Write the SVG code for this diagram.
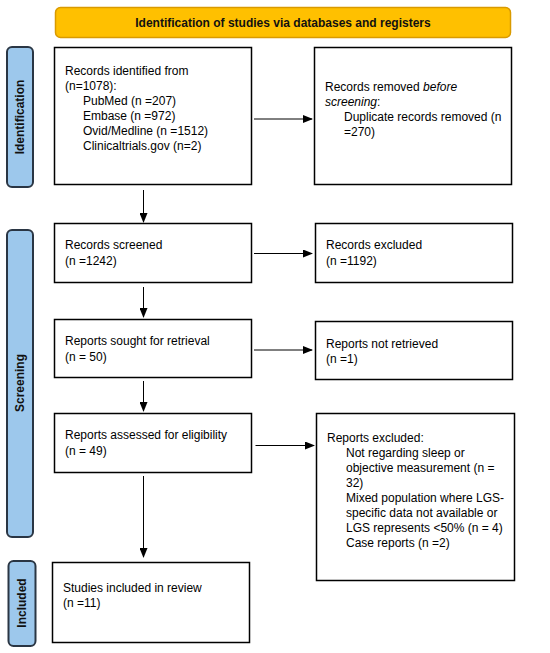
<svg xmlns="http://www.w3.org/2000/svg" width="550" height="653" viewBox="0 0 550 653">
<defs>
<marker id="ah" markerWidth="10" markerHeight="8" refX="9" refY="4" orient="auto" markerUnits="userSpaceOnUse">
<path d="M0,0 L10,4 L0,8 Z" fill="#000"/>
</marker>
<style>
.box{fill:#fff;stroke:#000;stroke-width:1.5}
.side{fill:#9DC8EC;stroke:#2A3644;stroke-width:2}
.banner{fill:#FFC000;stroke:#D99A00;stroke-width:1.5}
.t{font-family:"Liberation Sans",Arial,sans-serif;font-size:12px;fill:#000}
.b{font-family:"Liberation Sans",Arial,sans-serif;font-size:12px;font-weight:bold;fill:#111}
.c{stroke:#000;stroke-width:1;fill:none;marker-end:url(#ah)}
</style>
</defs>
<rect width="550" height="653" fill="#fff"/>
<g id="banner">
<rect class="banner" x="55.5" y="7.5" width="455" height="30" rx="5"/>
<text class="b" x="283" y="27" text-anchor="middle">Identification of studies via databases and registers</text>
</g>
<g id="side-identification">
<rect class="side" x="7" y="47" width="26" height="140" rx="5"/>
<text class="b" transform="translate(24,117) rotate(-90)" text-anchor="middle">Identification</text>
</g>
<g id="side-screening">
<rect class="side" x="7" y="230" width="26" height="307" rx="5"/>
<text class="b" transform="translate(24,383) rotate(-90)" text-anchor="middle">Screening</text>
</g>
<g id="side-included">
<rect class="side" x="8.5" y="561" width="27" height="85" rx="5"/>
<text class="b" transform="translate(26,603) rotate(-90)" text-anchor="middle">Included</text>
</g>
<g id="identified">
<rect class="box" x="54.5" y="47.5" width="197" height="137"/>
<text class="t"><tspan x="65" y="75">Records identified from</tspan><tspan x="65" y="90">(n=1078):</tspan><tspan x="83" y="105">PubMed (n =207)</tspan><tspan x="83" y="120">Embase (n =972)</tspan><tspan x="83" y="135">Ovid/Medline (n =1512)</tspan><tspan x="83" y="150">Clinicaltrials.gov (n=2)</tspan></text>
</g>
<g id="removed">
<rect class="box" x="314.5" y="47.5" width="197" height="137"/>
<text class="t"><tspan x="325" y="91">Records removed </tspan><tspan font-style="italic">before</tspan><tspan x="325" y="106" font-style="italic">screening</tspan><tspan>:</tspan><tspan x="344" y="121">Duplicate records removed (n</tspan><tspan x="344" y="136">=270)</tspan></text>
</g>
<g id="screened">
<rect class="box" x="54.5" y="223.5" width="197" height="59"/>
<text class="t"><tspan x="65" y="249">Records screened</tspan><tspan x="65" y="265">(n =1242)</tspan></text>
</g>
<g id="excluded">
<rect class="box" x="315.5" y="223.5" width="197" height="59"/>
<text class="t"><tspan x="326" y="249">Records excluded</tspan><tspan x="326" y="265">(n =1192)</tspan></text>
</g>
<g id="sought">
<rect class="box" x="54.5" y="319.5" width="197" height="58"/>
<text class="t"><tspan x="65" y="345">Reports sought for retrieval</tspan><tspan x="65" y="361">(n = 50)</tspan></text>
</g>
<g id="notretrieved">
<rect class="box" x="315.5" y="321.5" width="197" height="58"/>
<text class="t"><tspan x="326" y="347.5">Reports not retrieved</tspan><tspan x="326" y="363">(n =1)</tspan></text>
</g>
<g id="assessed">
<rect class="box" x="54.5" y="413.5" width="197" height="59"/>
<text class="t"><tspan x="65" y="439">Reports assessed for eligibility</tspan><tspan x="65" y="455">(n = 49)</tspan></text>
</g>
<g id="reportsexcluded">
<rect class="box" x="316.5" y="413.5" width="198" height="167"/>
<text class="t"><tspan x="327" y="442">Reports excluded:</tspan><tspan x="346" y="457">Not regarding sleep or</tspan><tspan x="346" y="472">objective measurement (n =</tspan><tspan x="346" y="487">32)</tspan><tspan x="346" y="502">Mixed population where LGS-</tspan><tspan x="346" y="517">specific data not available or</tspan><tspan x="346" y="532">LGS represents &lt;50% (n = 4)</tspan><tspan x="346" y="547">Case reports (n =2)</tspan></text>
</g>
<g id="included">
<rect class="box" x="52.5" y="562.5" width="197" height="80"/>
<text class="t"><tspan x="63" y="591.5">Studies included in review</tspan><tspan x="63" y="607">(n =11)</tspan></text>
</g>
<g id="connectors">
<line class="c" x1="254" y1="119" x2="312" y2="119"/>
<line class="c" x1="143.5" y1="190" x2="143.5" y2="222"/>
<line class="c" x1="254" y1="253.5" x2="312" y2="253.5"/>
<line class="c" x1="143.5" y1="287" x2="143.5" y2="317"/>
<line class="c" x1="254" y1="350" x2="312" y2="350"/>
<line class="c" x1="143.5" y1="381" x2="143.5" y2="411"/>
<line class="c" x1="255.5" y1="445.5" x2="314" y2="445.5"/>
<line class="c" x1="143.5" y1="476" x2="143.5" y2="557"/>
</g>
</svg>
